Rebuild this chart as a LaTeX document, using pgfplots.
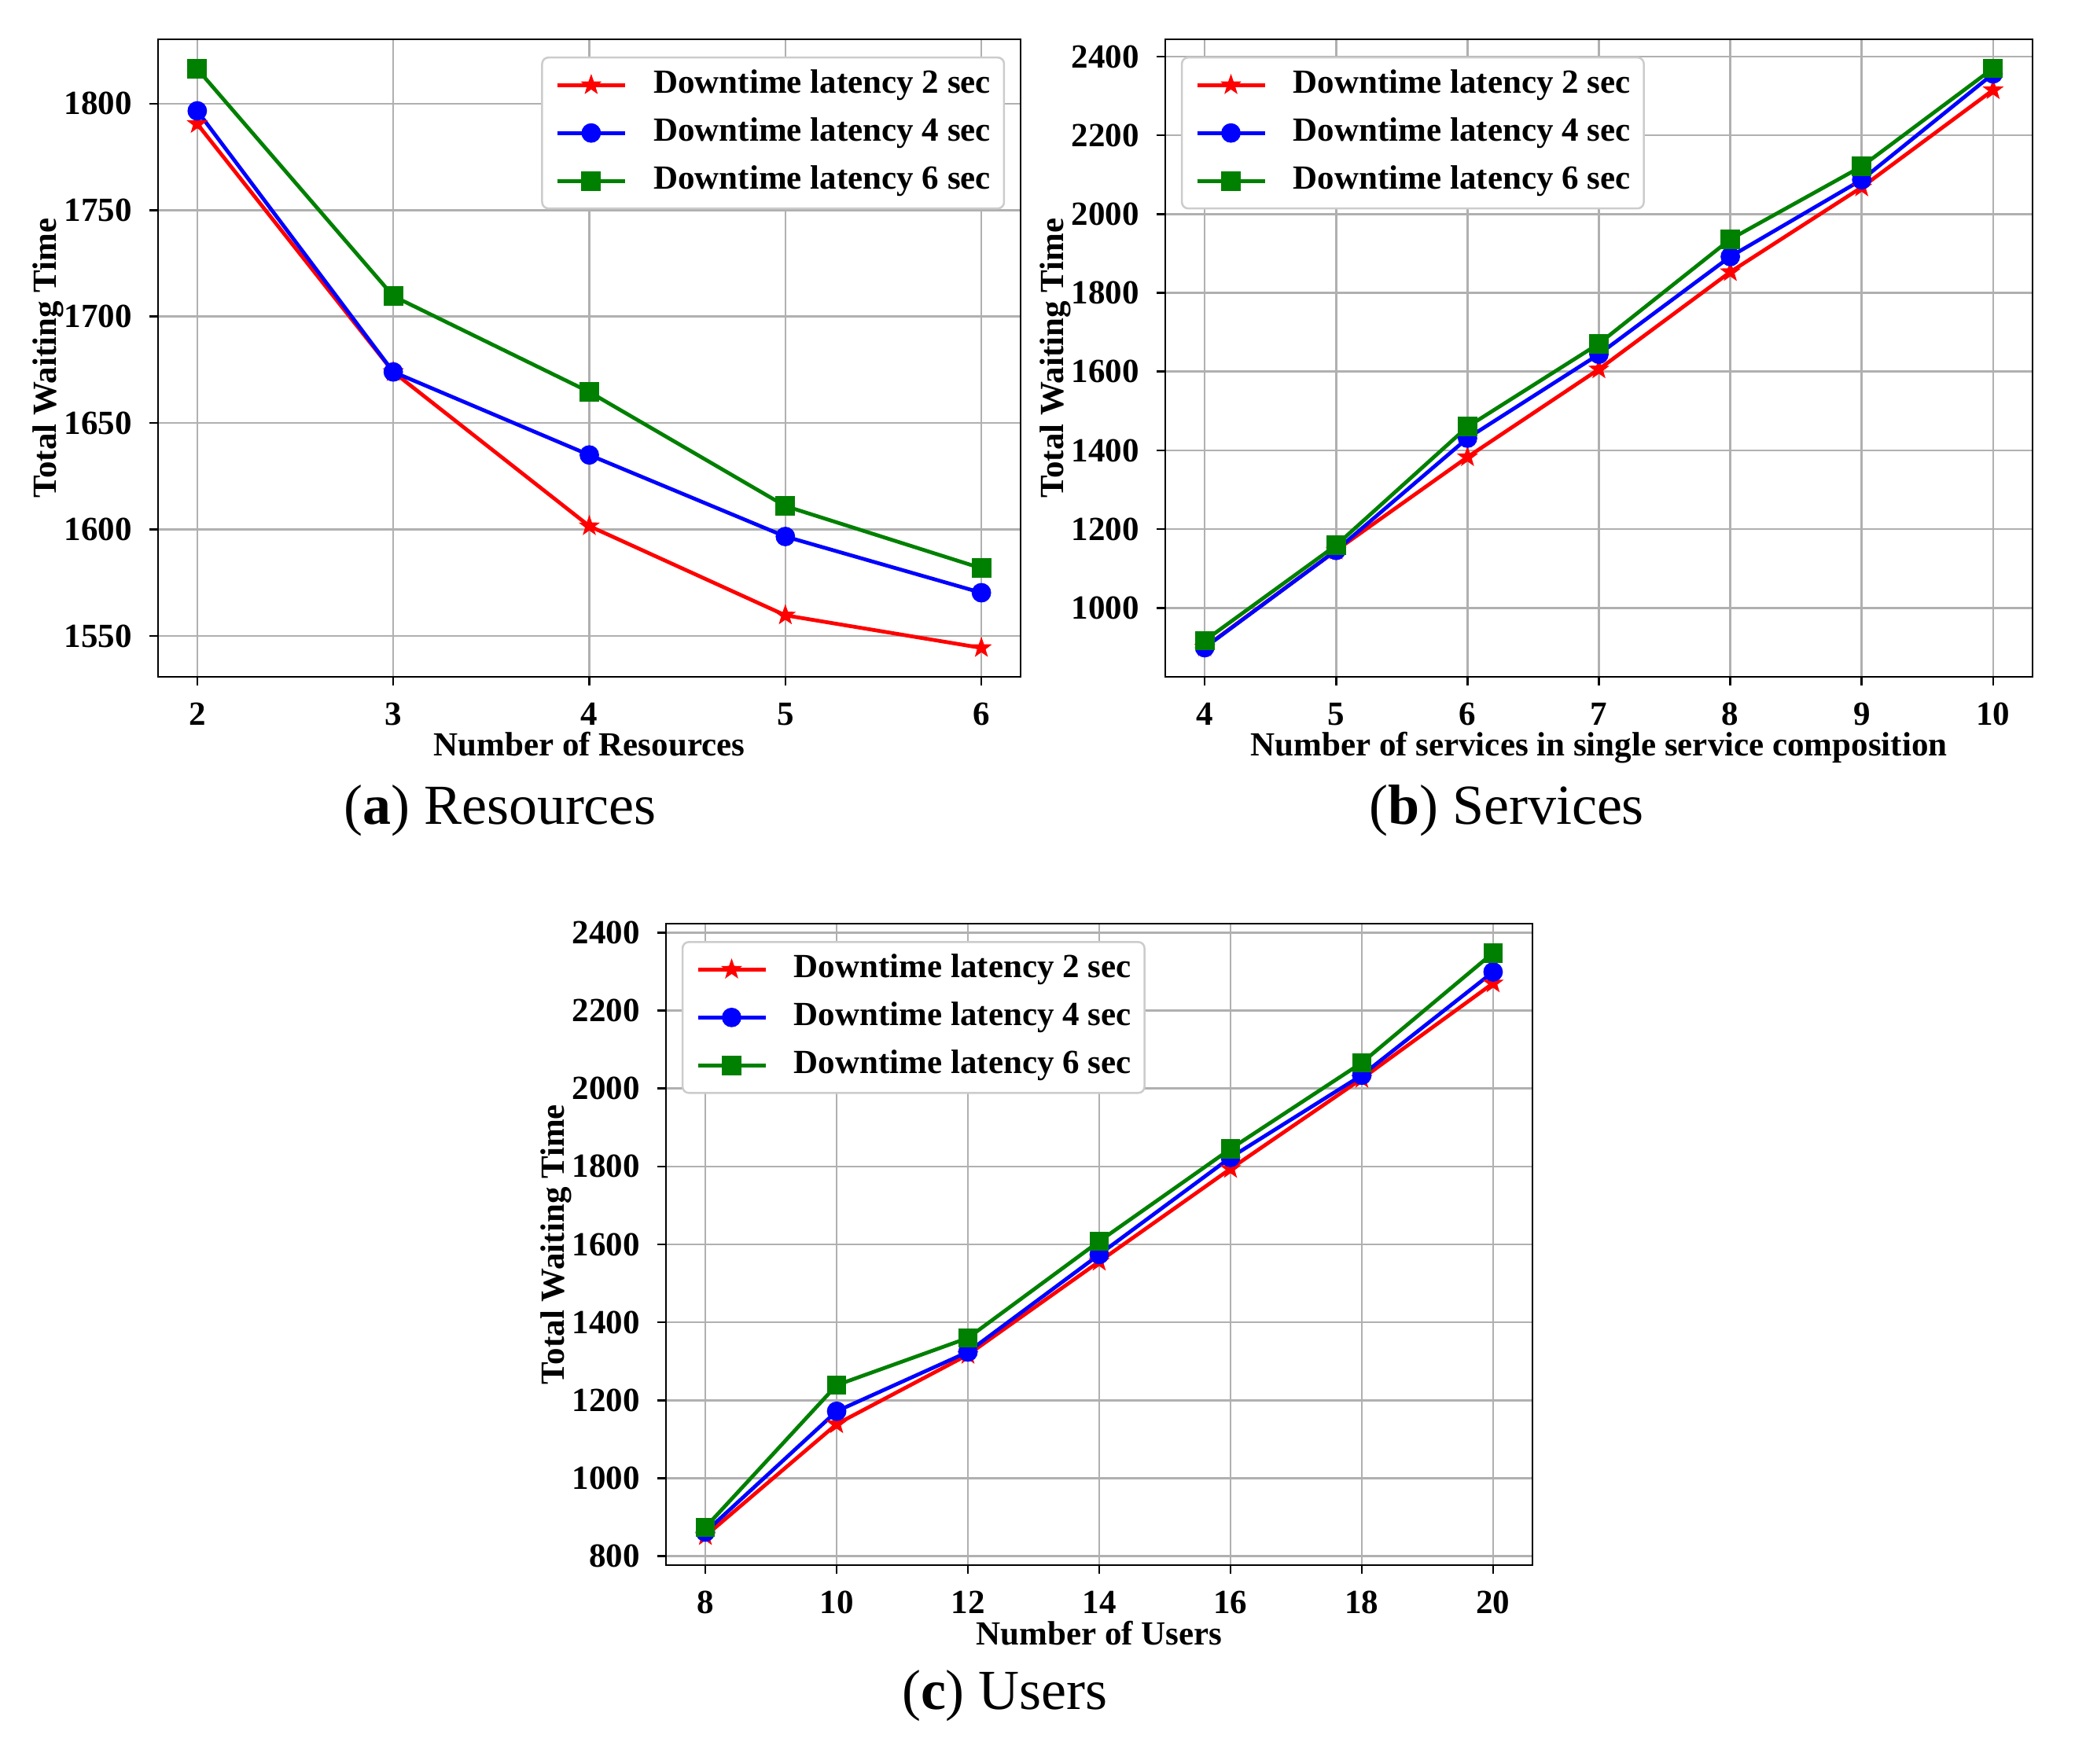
\documentclass[border=0pt]{standalone}
\usepackage{fontspec}
\setmainfont{Liberation Serif}
\usepackage{pgfplots}
\pgfplotsset{compat=1.18}
\usetikzlibrary{plotmarks}

\definecolor{gridgray}{HTML}{B0B0B0}
\definecolor{leggray}{HTML}{CCCCCC}
\definecolor{mplgreen}{rgb}{0,0.5,0}

\pgfdeclareplotmark{fstar}{%
  \pgfpathmoveto{\pgfpointpolar{90}{\pgfplotmarksize}}%
  \pgfpathlineto{\pgfpointpolar{126}{0.4\pgfplotmarksize}}%
  \pgfpathlineto{\pgfpointpolar{162}{\pgfplotmarksize}}%
  \pgfpathlineto{\pgfpointpolar{198}{0.4\pgfplotmarksize}}%
  \pgfpathlineto{\pgfpointpolar{234}{\pgfplotmarksize}}%
  \pgfpathlineto{\pgfpointpolar{270}{0.4\pgfplotmarksize}}%
  \pgfpathlineto{\pgfpointpolar{306}{\pgfplotmarksize}}%
  \pgfpathlineto{\pgfpointpolar{342}{0.4\pgfplotmarksize}}%
  \pgfpathlineto{\pgfpointpolar{18}{\pgfplotmarksize}}%
  \pgfpathlineto{\pgfpointpolar{54}{0.4\pgfplotmarksize}}%
  \pgfpathclose
  \pgfusepathqfillstroke
}

\newcommand{\lblfont}{\fontsize{10.75}{12}\selectfont\bfseries}

\pgfplotsset{
  mystyle/.style={
    scale only axis,
    grid=major,
    grid style={gridgray, line width=0.63pt},
    axis line style={black, line width=0.63pt},
    tick style={black, line width=0.63pt},
    major tick length=2.75pt,
    tick align=outside,
    tick pos=left,
    /pgf/number format/assume math mode=true,
    /pgf/number format/set thousands separator={},
    tick label style={font=\lblfont},
    xticklabel shift=2pt,
    yticklabel shift=2pt,
    label style={font=\lblfont},
    ylabel style={at={(axis description cs:-0.127,0.5)}, anchor=center},
    xlabel style={at={(axis description cs:0.5,-0.124)}, anchor=base},
    legend cell align=left,
    legend image code/.code={\draw[sharp corners,mark repeat=2,mark phase=2] plot coordinates {(0pt,0pt)(10.75pt,0pt)(21.5pt,0pt)};},
    legend style={draw=leggray, line width=0.63pt, rounded corners=2pt, fill=white,
      font=\lblfont,
      nodes={inner sep=0pt, text height=7.5pt, text depth=2.5pt},
      row sep=5.25pt, column sep=8.5pt, inner xsep=4.25pt, inner ysep=3.75pt},
  },
  sred/.style={red, line width=1.2pt, mark=fstar, mark size=3.1pt, mark options={solid, fill=red, draw=red, line width=0.3pt}},
  sblue/.style={blue, line width=1.2pt, mark=*, mark size=2.95pt, mark options={solid, fill=blue, draw=blue, line width=0.3pt}},
  sgreen/.style={mplgreen, line width=1.2pt, mark=square*, mark size=2.95pt, mark options={solid, fill=mplgreen, draw=mplgreen, line width=0.3pt}},
}

\begin{document}
\begin{tikzpicture}
\useasboundingbox (0pt,0pt) rectangle (659.75pt,-560.75pt);

% (a) Resources
\begin{axis}[mystyle,
  at={(50.25pt,-12.5pt)}, anchor=north west,
  width=274.25pt, height=202.75pt,
  xmin=1.8, xmax=6.2, ymin=1530.8, ymax=1830.2,
  xtick={2,3,4,5,6}, ytick={1550,1600,1650,1700,1750,1800},
  xlabel={Number of Resources}, ylabel={Total Waiting Time},
  legend style={at={(0.982,0.973)}, anchor=north east},
]
\addplot[sred] coordinates {(2,1790.5)(3,1674)(4,1601.6)(5,1559.7)(6,1544.4)};
\addlegendentry{Downtime latency 2 sec}
\addplot[sblue] coordinates {(2,1796.6)(3,1674)(4,1635)(5,1596.7)(6,1570.3)};
\addlegendentry{Downtime latency 4 sec}
\addplot[sgreen] coordinates {(2,1816.3)(3,1709.6)(4,1664.6)(5,1611)(6,1581.8)};
\addlegendentry{Downtime latency 6 sec}
\end{axis}

% (b) Services
\begin{axis}[mystyle,
  at={(370.5pt,-12.5pt)}, anchor=north west,
  width=275.75pt, height=202.75pt,
  xmin=3.7, xmax=10.3, ymin=825, ymax=2443.7,
  xtick={4,5,6,7,8,9,10}, ytick={1000,1200,1400,1600,1800,2000,2200,2400},
  xlabel={Number of services in single service composition}, ylabel={Total Waiting Time},
  legend style={at={(0.018,0.973)}, anchor=north west},
]
\addplot[sred] coordinates {(4,900)(5,1146)(6,1383)(7,1606)(8,1853)(9,2068)(10,2315)};
\addlegendentry{Downtime latency 2 sec}
\addplot[sblue] coordinates {(4,899)(5,1146)(6,1431)(7,1644)(8,1892)(9,2087)(10,2356)};
\addlegendentry{Downtime latency 4 sec}
\addplot[sgreen] coordinates {(4,917)(5,1159)(6,1460)(7,1671)(8,1936)(9,2121)(10,2370)};
\addlegendentry{Downtime latency 6 sec}
\end{axis}

% (c) Users
\begin{axis}[mystyle,
  at={(211.75pt,-293.75pt)}, anchor=north west,
  width=275.5pt, height=204pt,
  xmin=7.4, xmax=20.6, ymin=777.2, ymax=2422.8,
  xtick={8,10,12,14,16,18,20}, ytick={800,1000,1200,1400,1600,1800,2000,2200,2400},
  xlabel={Number of Users}, ylabel={Total Waiting Time},
  legend style={at={(0.018,0.973)}, anchor=north west},
]
\addplot[sred] coordinates {(8,852)(10,1139)(12,1317)(14,1556)(16,1794)(18,2025)(20,2270)};
\addlegendentry{Downtime latency 2 sec}
\addplot[sblue] coordinates {(8,862)(10,1172)(12,1324)(14,1574)(16,1823)(18,2034)(20,2299)};
\addlegendentry{Downtime latency 4 sec}
\addplot[sgreen] coordinates {(8,874)(10,1239)(12,1360)(14,1608)(16,1845)(18,2066)(20,2348)};
\addlegendentry{Downtime latency 6 sec}
\end{axis}

\node[anchor=base, font=\fontsize{18}{20}\selectfont] at (159pt,-262pt) {({\bfseries a}) Resources};
\node[anchor=base, font=\fontsize{18}{20}\selectfont] at (479pt,-262pt) {({\bfseries b}) Services};
\node[anchor=base, font=\fontsize{18}{20}\selectfont] at (319.5pt,-543.5pt) {({\bfseries c}) Users};
\end{tikzpicture}
\end{document}
